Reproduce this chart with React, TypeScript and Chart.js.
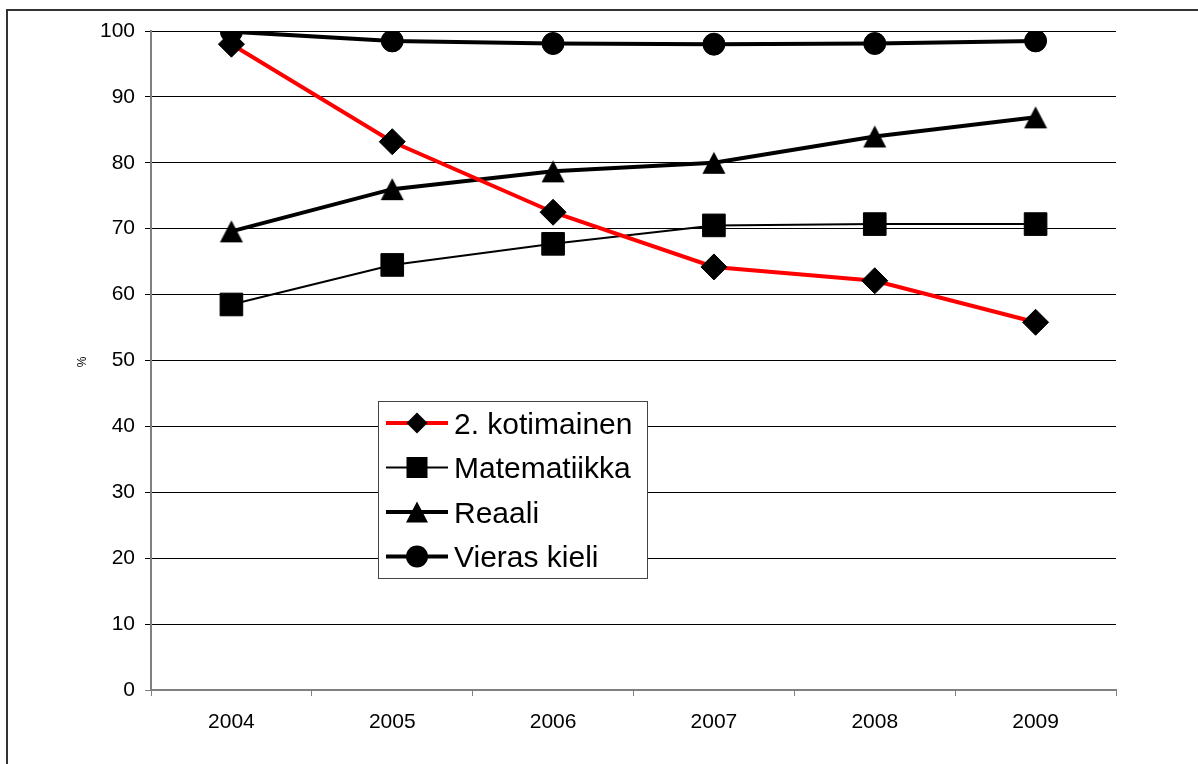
import React, { useEffect, useRef } from 'react';
import { Chart, registerables } from 'chart.js';

Chart.register(...registerables);

const years = ['2004', '2005', '2006', '2007', '2008', '2009'];
const kotimainen = [98.0, 83.2, 72.5, 64.2, 62.1, 55.8];
const matematiikka = [58.5, 64.5, 67.7, 70.5, 70.7, 70.7];
const reaali = [69.6, 76.0, 78.7, 80.0, 84.0, 86.9];
const vierasKieli = [99.9, 98.5, 98.1, 98.0, 98.1, 98.5];
const seriesNames = ['2. kotimainen', 'Matematiikka', 'Reaali', 'Vieras kieli'];
const yAxisTitle = '%';
const yMin = 0;
const yMax = 100;
const yStep = 10;

const FONT = '"Liberation Sans", Arial, sans-serif';

function makeTriangle(w: number, h: number): HTMLCanvasElement {
  const c = document.createElement('canvas');
  c.width = 30;
  c.height = 30;
  const ctx = c.getContext('2d')!;
  ctx.fillStyle = '#000';
  ctx.beginPath();
  ctx.moveTo(15, 15 - h / 2);
  ctx.lineTo(15 + w / 2, 15 + h / 2);
  ctx.lineTo(15 - w / 2, 15 + h / 2);
  ctx.closePath();
  ctx.fill();
  return c;
}

function drawMarker(ctx: CanvasRenderingContext2D, kind: string, x: number, y: number) {
  ctx.save();
  ctx.fillStyle = '#000';
  ctx.beginPath();
  if (kind === 'diamond') {
    const r = 10.5;
    ctx.moveTo(x, y - r);
    ctx.lineTo(x + r, y);
    ctx.lineTo(x, y + r);
    ctx.lineTo(x - r, y);
    ctx.closePath();
  } else if (kind === 'square') {
    const s = 10.5;
    ctx.rect(x - s, y - s, 2 * s, 2 * s);
  } else if (kind === 'triangle') {
    const w = 22;
    const h = 21;
    ctx.moveTo(x, y - h / 2);
    ctx.lineTo(x + w / 2, y + h / 2);
    ctx.lineTo(x - w / 2, y + h / 2);
    ctx.closePath();
  } else {
    ctx.arc(x, y, 11, 0, Math.PI * 2);
  }
  ctx.fill();
  ctx.restore();
}

const decorPlugin = {
  id: 'decor',
  beforeDraw(chart: any) {
    const ctx = chart.ctx as CanvasRenderingContext2D;
    ctx.save();
    ctx.strokeStyle = '#333';
    ctx.lineWidth = 2;
    ctx.beginPath();
    ctx.moveTo(7, 1000);
    ctx.lineTo(7, 10);
    ctx.lineTo(1300, 10);
    ctx.stroke();
    // y axis title
    ctx.translate(83, 362);
    ctx.rotate(-Math.PI / 2);
    ctx.fillStyle = '#000';
    ctx.font = `12px ${FONT}`;
    ctx.textAlign = 'center';
    ctx.textBaseline = 'middle';
    ctx.fillText(yAxisTitle, 0, 0);
    ctx.restore();
  },
  afterDatasetsDraw(chart: any) {
    const ctx = chart.ctx as CanvasRenderingContext2D;
    ctx.save();
    const bx = 378.5, by = 401.5, bw = 269, bh = 177;
    ctx.fillStyle = '#fff';
    ctx.fillRect(bx, by, bw, bh);
    ctx.strokeStyle = '#444';
    ctx.lineWidth = 1;
    ctx.strokeRect(bx, by, bw, bh);
    const rows = [423, 467.5, 512, 556.5];
    const colors = ['#ff0000', '#000', '#000', '#000'];
    const widths = [4, 2, 4, 4];
    const kinds = ['diamond', 'square', 'triangle', 'circle'];
    seriesNames.forEach((name, i) => {
      const y = rows[i];
      ctx.strokeStyle = colors[i];
      ctx.lineWidth = widths[i];
      ctx.beginPath();
      ctx.moveTo(386, y);
      ctx.lineTo(448, y);
      ctx.stroke();
      drawMarker(ctx, kinds[i], 417, y);
      ctx.fillStyle = '#000';
      ctx.font = `30px ${FONT}`;
      ctx.textAlign = 'left';
      ctx.textBaseline = 'alphabetic';
      ctx.fillText(name, 454, y + 10.7);
    });
    ctx.restore();
  },
};

export default function App() {
  const ref = useRef<HTMLCanvasElement | null>(null);

  useEffect(() => {
    if (!ref.current) return;
    const tri = makeTriangle(23, 22);
    const chart = new Chart(ref.current, {
      type: 'line',
      data: {
        labels: years,
        datasets: [
          {
            label: seriesNames[0],
            data: kotimainen,
            borderColor: '#ff0000',
            borderWidth: 4,
            pointStyle: 'rectRot',
            pointRadius: 13,
            pointBackgroundColor: '#000',
            pointBorderColor: '#000',
            pointBorderWidth: 1,
            tension: 0,
          },
          {
            label: seriesNames[1],
            data: matematiikka,
            borderColor: '#000',
            borderWidth: 2,
            pointStyle: 'rect',
            pointRadius: 16,
            pointBackgroundColor: '#000',
            pointBorderColor: '#000',
            pointBorderWidth: 1,
            tension: 0,
          },
          {
            label: seriesNames[2],
            data: reaali,
            borderColor: '#000',
            borderWidth: 4,
            pointStyle: tri as any,
            pointRadius: 12,
            pointBackgroundColor: '#000',
            pointBorderColor: '#000',
            tension: 0,
          },
          {
            label: seriesNames[3],
            data: vierasKieli,
            borderColor: '#000',
            borderWidth: 4,
            pointStyle: 'circle',
            pointRadius: 11,
            pointBackgroundColor: '#000',
            pointBorderColor: '#000',
            pointBorderWidth: 1,
            tension: 0,
          },
        ],
      },
      options: {
        animation: false,
        responsive: true,
        maintainAspectRatio: false,
        layout: { padding: { top: 31, right: 82, left: 0, bottom: 0 } },
        plugins: {
          legend: { display: false },
          tooltip: { enabled: false },
        },
        scales: {
          x: {
            type: 'category',
            offset: true,
            afterFit: (scale: any) => {
              scale.height = 74;
            },
            grid: {
              offset: true,
              drawOnChartArea: false,
              drawTicks: true,
              tickLength: 6,
              color: '#808080',
            },
            border: { display: true, color: '#808080', width: 2 },
            ticks: {
              color: '#000',
              padding: 14,
              font: { family: FONT, size: 21 },
              maxRotation: 0,
            },
          },
          y: {
            min: yMin,
            max: yMax,
            afterFit: (scale: any) => {
              scale.width = 151;
            },
            grid: {
              color: (c: any) => (c.tick && c.tick.value === 0 ? '#808080' : '#000'),
              lineWidth: 1,
              drawTicks: true,
              tickLength: 6,
            },
            border: { display: true, color: '#808080', width: 2 },
            ticks: {
              stepSize: yStep,
              color: '#000',
              padding: 10,
              font: { family: FONT, size: 21 },
            },
          },
        },
      },
      plugins: [decorPlugin],
    });
    return () => chart.destroy();
  }, []);

  return (
    <div style={{ position: 'absolute', left: 0, top: 0, width: 1198, height: 764, background: '#fff' }}>
      <canvas ref={ref} />
    </div>
  );
}
